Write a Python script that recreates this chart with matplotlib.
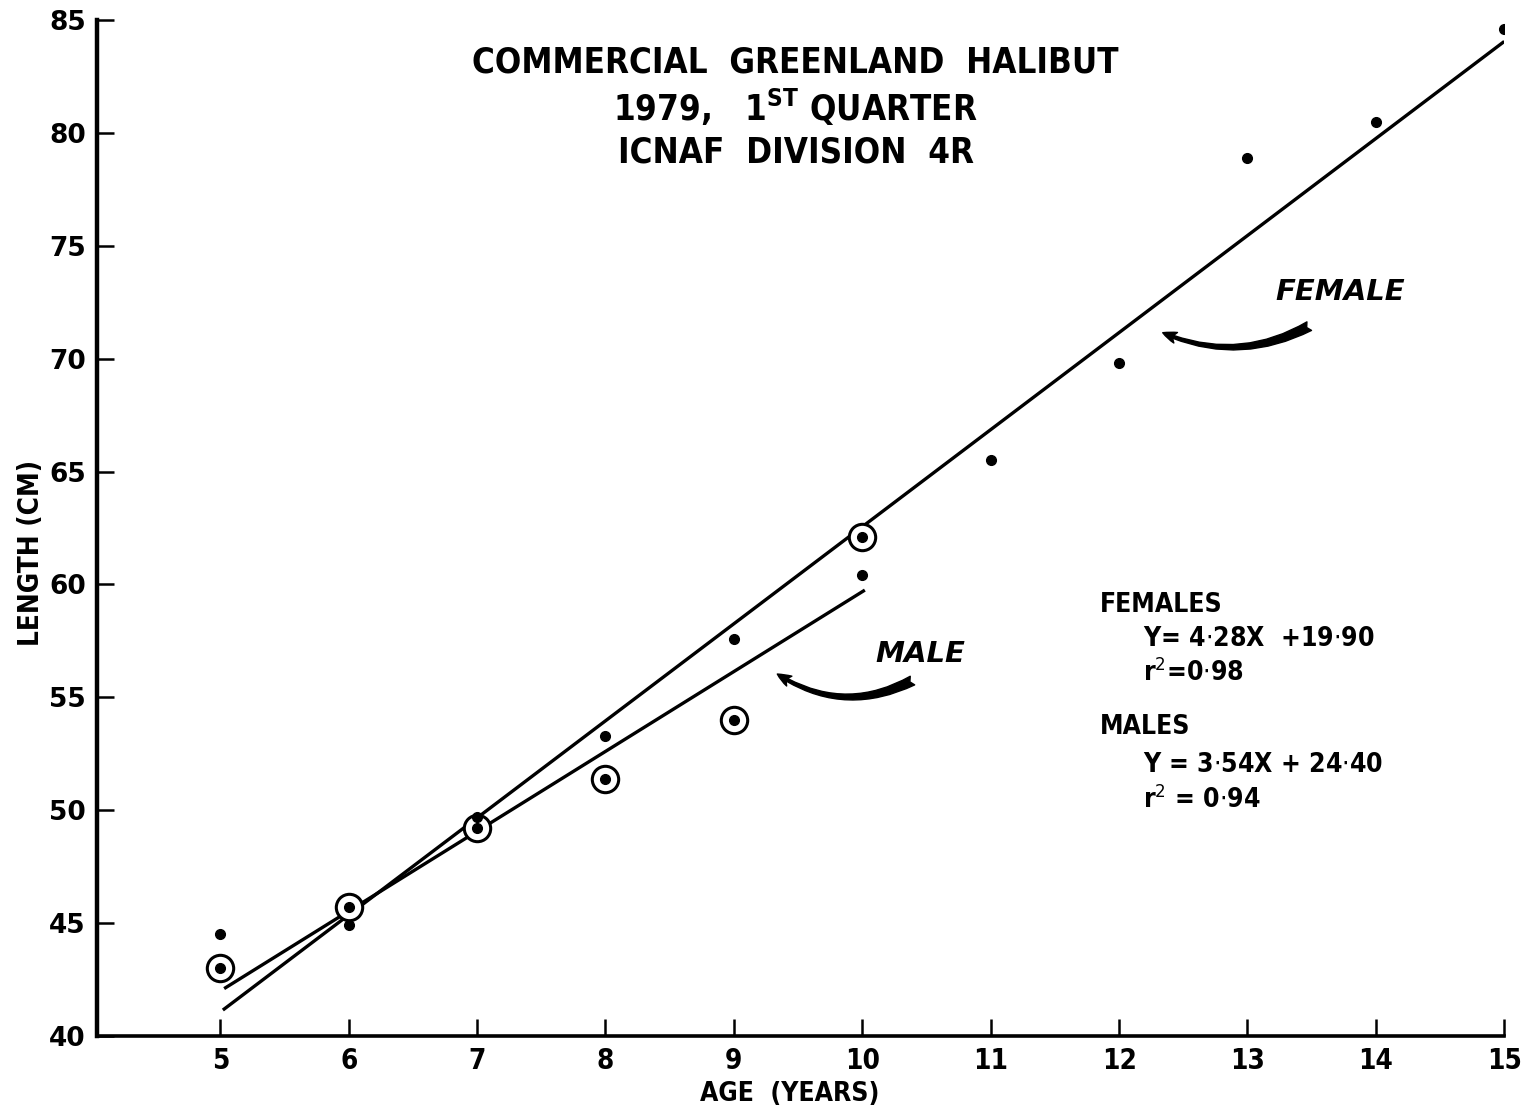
import numpy as np
import matplotlib.pyplot as plt

# data
ages = [5, 6, 7, 8, 9, 10, 11, 12, 13, 14, 15]
female_len = [44.5, 44.9, 49.7, 53.3, 57.6, 60.4, 65.5, 69.8, 78.9, 80.5, 84.6]
circ_ages = [5, 6, 7, 8, 9, 10]
male_len = [43.0, 45.7, 49.2, 51.4, 54.0, 62.1]

female_fit_x = [5.02, 15.0]
female_fit_y = [41.15, 84.05]
male_fit_x = [5.03, 10.02]
male_fit_y = [42.1, 59.75]

x_ticks = [5, 6, 7, 8, 9, 10, 11, 12, 13, 14, 15]
y_ticks = [40, 45, 50, 55, 60, 65, 70, 75, 80, 85]

plt.rcParams['font.family'] = ['DejaVu Sans']
plt.rcParams['font.stretch'] = 'condensed'
plt.rcParams['mathtext.fontset'] = 'custom'
plt.rcParams['mathtext.rm'] = 'DejaVu Sans:stretch=condensed'
plt.rcParams['mathtext.bf'] = 'DejaVu Sans:bold:stretch=condensed'

fig = plt.figure(figsize=(15.21, 11.11), dpi=100)
ax = fig.add_axes([0.0638, 0.0675, 0.9252, 0.9145])

ax.plot(female_fit_x, female_fit_y, color='black', lw=2.4, solid_capstyle='butt')
ax.plot(male_fit_x, male_fit_y, color='black', lw=2.4, solid_capstyle='butt')

ax.plot(ages, female_len, 'o', color='black', ms=7, zorder=3)
ax.plot(circ_ages, male_len, 'o', color='black', ms=7, zorder=3)
ax.plot(circ_ages, male_len, 'o', mfc='white', mec='black', mew=2.2, ms=19, zorder=2)

ax.set_xlim(4.04, 15.0)
ax.set_ylim(40, 85)
ax.set_xticks(x_ticks)
ax.set_yticks(y_ticks)
ax.set_xticklabels([str(t) for t in x_ticks], fontsize=20, fontweight='bold')
ax.set_yticklabels([str(t) for t in y_ticks], fontsize=19, fontweight='bold',
                   fontstretch='normal')
ax.tick_params(axis='both', direction='in', length=12, width=1.8)
ax.tick_params(axis='x', pad=8)
ax.tick_params(axis='y', pad=8)

for s in ['top', 'right']:
    ax.spines[s].set_visible(False)
ax.spines['left'].set_linewidth(3.2)
ax.spines['bottom'].set_linewidth(2.6)

fig.text(790 / 1521, 1 - 1094 / 1111, 'AGE  (YEARS)', fontsize=19, fontweight='bold',
         ha='center', va='center')
ax.set_ylabel('LENGTH (CM)', fontsize=20, fontweight='bold', labelpad=0)
ax.yaxis.set_label_coords(-0.037, 0.475)

# title block
tkw = dict(fontsize=25, ha='center', va='center', fontweight='bold')
ax.text(9.48, 83.1, 'COMMERCIAL  GREENLAND  HALIBUT', **tkw)
ax.text(9.48, 81.15, r'1979,   1$^{\mathbf{ST}}$ QUARTER', **tkw)
ax.text(9.48, 79.15, 'ICNAF  DIVISION  4R', **tkw)

# regression notes
nkw = dict(fontsize=19, ha='left', va='center', fontweight='bold')
ax.text(11.85, 59.1, 'FEMALES', **nkw)
ax.text(12.19, 57.6, r'Y= 4$\cdot$28X  +19$\cdot$90', **nkw)
ax.text(12.19, 56.1, r'r$^2$=0$\cdot$98', **nkw)
ax.text(11.85, 53.7, 'MALES', **nkw)
ax.text(12.19, 52.0, r'Y = 3$\cdot$54X + 24$\cdot$40', **nkw)
ax.text(12.19, 50.45, r'r$^2$ = 0$\cdot$94', **nkw)

# labelled arrows
akw = dict(arrowstyle='fancy,head_length=1.0,head_width=0.8,tail_width=0.7',
           color='black', lw=1)
ax.text(13.72, 72.95, 'FEMALE', fontsize=21, fontweight='bold', style='italic',
        ha='center', va='center', fontstretch='normal')
ax.annotate('', xy=(12.32, 71.2), xytext=(13.5, 71.5),
            arrowprops=dict(connectionstyle='arc3,rad=-0.25', **akw))
ax.text(10.45, 56.9, 'MALE', fontsize=21, fontweight='bold', style='italic',
        ha='center', va='center', fontstretch='normal')
ax.annotate('', xy=(9.32, 56.1), xytext=(10.41, 55.8),
            arrowprops=dict(connectionstyle='arc3,rad=-0.3', **akw))

fig.savefig('out.png', dpi=100)
